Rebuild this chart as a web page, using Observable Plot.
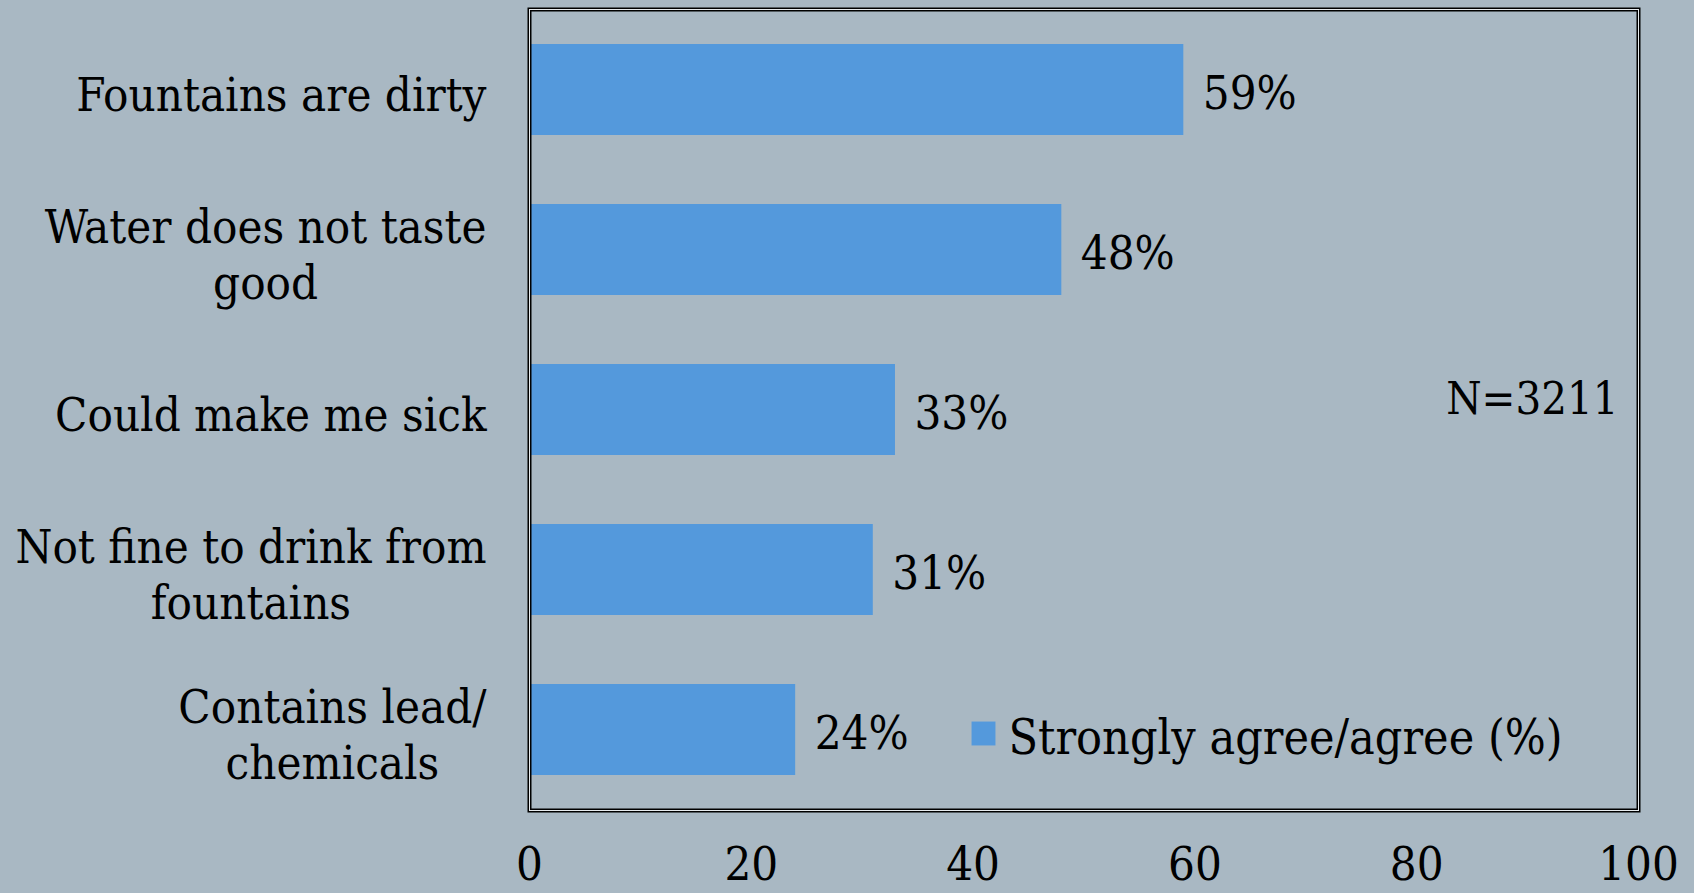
<!DOCTYPE html>
<html><head><meta charset="utf-8">
<script src="https://cdn.jsdelivr.net/npm/d3@7"></script>
<script src="https://cdn.jsdelivr.net/npm/@observablehq/plot@0.6"></script>
<style>
html,body{margin:0;padding:0;background:#a9b8c3;}
#chart{width:1694px;height:893px;}
#chart svg{font-family:"DejaVu Serif",serif;font-stretch:condensed;}
</style></head><body><div id="chart"></div>
<script>
const categories = ["Fountains are dirty","Water does not taste good","Could make me sick","Not fine to drink from fountains","Contains lead/chemicals"];
const labelLines = [["Fountains are dirty"],["Water does not taste","good"],["Could make me sick"],["Not fine to drink from","fountains"],["Contains lead/","chemicals"]];
const values = [59,48,33,31,24];
const xTicks = [0,20,40,60,80,100];
const seriesName = "Strongly agree/agree (%)";
const sampleNote = "N=3211";

const barColor = "#5499dc";
const FS = 47;
const FONT = `${FS}px "DejaVu Serif", serif`;

const data = categories.map((c,i)=>({category:c, value:values[i], label:values[i]+"%"}));

const ctx = document.createElement("canvas").getContext("2d");
ctx.font = FONT;
try { ctx.fontStretch = "condensed"; } catch(e) {}
const measure = s => ctx.measureText(s).width;

const labelMarks = categories.map((c,i)=>{
  const w = Math.max(...labelLines[i].map(measure));
  return Plot.text([labelLines[i].join("\n")], {
    y: [c], text: d=>d, frameAnchor:"left", textAnchor:"middle",
    dx: -(43 + w/2), dy: 3, lineHeight:1.2, fontSize:FS, fill:"black"
  });
});

const chart = Plot.plot({
  width:1694, height:893,
  marginLeft:529, marginRight:56, marginTop:9, marginBottom:83,
  style:{background:"#a9b8c3", fontSize:FS+"px", color:"black"},
  x:{domain:[0,100], ticks:xTicks, tickSize:0, tickPadding:36, label:null},
  y:{domain:categories, paddingInner:0.43, paddingOuter:0.215, axis:null},
  marks:[
    Plot.barX(data, {x:"value", y:"category", fill:barColor}),
    Plot.text(data, {x:"value", y:"category", text:"label", textAnchor:"start", dx:19, dy:4, fontSize:FS, fill:"black"}),
    ...labelMarks,
    Plot.text([sampleNote], {text:d=>d, frameAnchor:"right", textAnchor:"end", dx:-20, dy:-10, fontSize:45, fill:"black"}),
    Plot.dot([seriesName], {frameAnchor:"bottom-left", dx:454, dy:-77, symbol:"square", r:13.5, fill:barColor, stroke:null}),
    Plot.text([seriesName], {text:d=>d, frameAnchor:"bottom-left", textAnchor:"start", dx:479, dy:-57, fontSize:48, fill:"black"}),
    Plot.frame({stroke:"black", strokeWidth:4}),
    Plot.frame({stroke:"#e8ecef", strokeWidth:1}),
    Plot.axisX({ticks:xTicks, tickSize:0, tickPadding:36, fontSize:FS, label:null})
  ]
});
document.getElementById("chart").appendChild(chart);
</script></body></html>
